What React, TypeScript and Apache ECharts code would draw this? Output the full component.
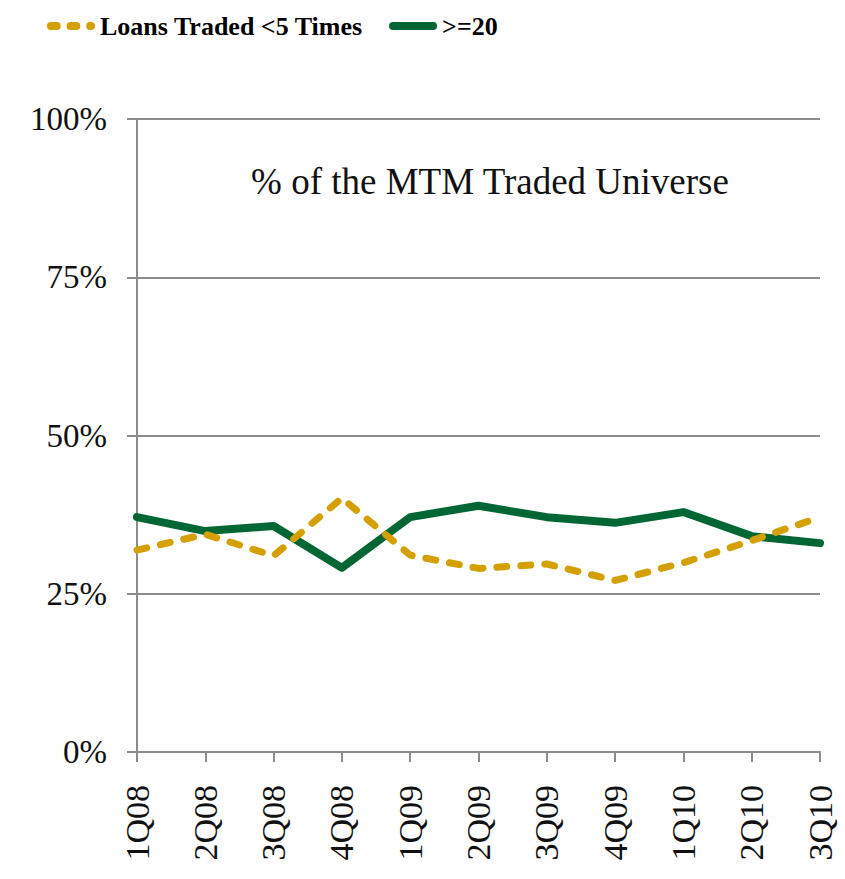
import React, { useEffect, useRef } from "react";
import * as echarts from "echarts";

const categories = ["1Q08", "2Q08", "3Q08", "4Q08", "1Q09", "2Q09", "3Q09", "4Q09", "1Q10", "2Q10", "3Q10"];
const tradedUnder5 = [31.9, 34.4, 31.0, 40.1, 31.1, 29.0, 29.7, 27.1, 29.9, 33.4, 37.1];
const tradedOver20 = [37.1, 34.9, 35.7, 29.1, 37.1, 38.9, 37.1, 36.2, 37.9, 34.1, 33.0];
const yTicks = [0, 25, 50, 75, 100];
const seriesNames = ["Loans Traded <5 Times", ">=20"];
const annotation = "% of the MTM Traded Universe";

const GOLD = "#D4A000";
const GREEN = "#006633";
const AXIS_GRAY = "#8C8C8C";
const SERIF = "Liberation Serif";

const dashIcon =
  "path://M4,0 H10 A4,4 0 0 1 10,8 H4 A4,4 0 0 1 4,0 Z M24,0 H30 A4,4 0 0 1 30,8 H24 A4,4 0 0 1 24,0 Z M44,0 H45 A4,4 0 0 1 45,8 H44 A4,4 0 0 1 44,0 Z";
const solidIcon = "path://M4,0 H44 A4,4 0 0 1 44,8 H4 A4,4 0 0 1 4,0 Z";

export default function App() {
  const ref = useRef<HTMLDivElement>(null);

  useEffect(() => {
    if (!ref.current) return;
    const chart = echarts.init(ref.current, null, { renderer: "svg" });
    chart.setOption({
      animation: false,
      backgroundColor: "#ffffff",
      legend: {
        left: 42,
        top: 8,
        itemWidth: 48,
        itemHeight: 9,
        itemGap: 26,
        itemStyle: { borderWidth: 0 },
        textStyle: {
          fontFamily: SERIF,
          fontWeight: "bold",
          fontSize: 26,
          color: "#000",
        },
        data: [
          { name: seriesNames[0], icon: dashIcon },
          { name: seriesNames[1], icon: solidIcon },
        ],
      },
      grid: { left: 137, right: 25, top: 119, bottom: 127, containLabel: false },
      xAxis: {
        type: "category",
        data: categories,
        boundaryGap: false,
        axisLine: { lineStyle: { color: AXIS_GRAY, width: 2 } },
        axisTick: { show: true, length: 10, alignWithLabel: true, lineStyle: { color: AXIS_GRAY, width: 2 } },
        axisLabel: {
          rotate: 90,
          margin: 33,
          fontFamily: SERIF,
          fontSize: 34,
          color: "#111",
          interval: 0,
        },
        splitLine: { show: false },
      },
      yAxis: {
        type: "value",
        min: yTicks[0],
        max: yTicks[yTicks.length - 1],
        interval: 25,
        axisLine: { show: true, lineStyle: { color: AXIS_GRAY, width: 2 } },
        axisTick: { show: true, length: 10, lineStyle: { color: AXIS_GRAY, width: 2 } },
        axisLabel: {
          margin: 30,
          fontFamily: SERIF,
          fontSize: 33,
          color: "#111",
          formatter: (v: number) => `${v}%`,
        },
        splitLine: { show: true, lineStyle: { color: AXIS_GRAY, width: 2 } },
      },
      graphic: [
        {
          type: "text",
          x: 490,
          y: 181,
          style: {
            text: annotation,
            fontFamily: SERIF,
            fontSize: 37,
            fill: "#111",
            textAlign: "center",
            textVerticalAlign: "middle",
          },
        },
      ],
      series: [
        {
          name: seriesNames[1],
          type: "line",
          data: tradedOver20,
          showSymbol: false,
          symbol: "none",
          itemStyle: { color: GREEN },
          lineStyle: { color: GREEN, width: 8, cap: "round", join: "round" },
          z: 2,
        },
        {
          name: seriesNames[0],
          type: "line",
          data: tradedUnder5,
          showSymbol: false,
          symbol: "none",
          itemStyle: { color: GOLD },
          lineStyle: { color: GOLD, width: 7, type: [10, 14], cap: "round", join: "round" },
          z: 3,
        },
      ],
    });
    return () => chart.dispose();
  }, []);

  return (
    <div
      ref={ref}
      style={{ position: "absolute", left: 0, top: 0, width: 845, height: 879, background: "#fff" }}
    />
  );
}
